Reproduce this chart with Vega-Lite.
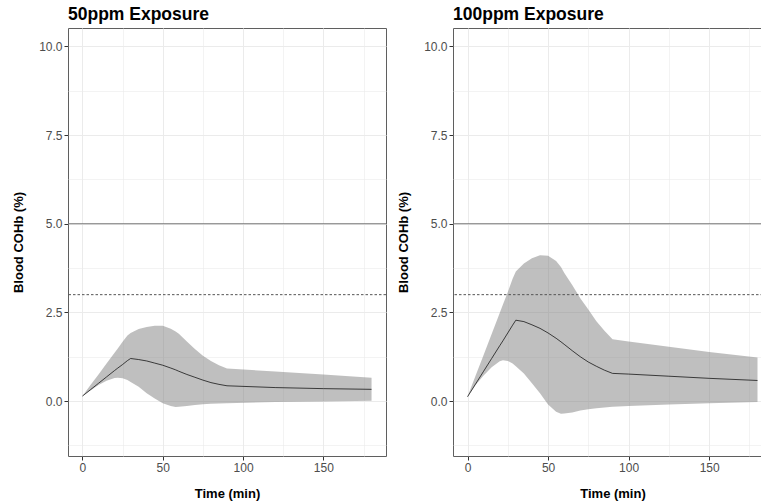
{
  "$schema": "https://vega.github.io/schema/vega-lite/v6.json",
  "padding": {"left": 12, "top": 5, "right": 0, "bottom": 0},
  "config": {
    "font": "Liberation Sans",
    "view": {"stroke": "#5f5f5f", "strokeWidth": 1},
    "title": {"fontSize": 17.5, "fontWeight": "bold", "anchor": "start", "frame": "group", "color": "#000000", "offset": 5},
    "axis": {"domain": false, "gridColor": "#ebebeb", "tickColor": "#333333", "tickSize": 4, "labelFontSize": 12, "labelColor": "#4d4d4d", "labelPadding": 2, "titleFontSize": 13, "titleFontWeight": "bold", "titleColor": "#000000"},
    "concat": {"spacing": 10}
  },
  "datasets": {
    "d50": [
      {"t": 0, "mean": 0.14, "lo": 0.14, "hi": 0.14},
      {"t": 5, "mean": 0.32, "lo": 0.30, "hi": 0.45},
      {"t": 10, "mean": 0.50, "lo": 0.45, "hi": 0.75},
      {"t": 15, "mean": 0.68, "lo": 0.57, "hi": 1.06},
      {"t": 20, "mean": 0.86, "lo": 0.65, "hi": 1.36},
      {"t": 22, "mean": 0.93, "lo": 0.66, "hi": 1.48},
      {"t": 25, "mean": 1.03, "lo": 0.64, "hi": 1.67},
      {"t": 28, "mean": 1.14, "lo": 0.59, "hi": 1.85},
      {"t": 30, "mean": 1.20, "lo": 0.54, "hi": 1.92},
      {"t": 35, "mean": 1.17, "lo": 0.40, "hi": 2.03},
      {"t": 40, "mean": 1.13, "lo": 0.22, "hi": 2.09},
      {"t": 45, "mean": 1.07, "lo": 0.07, "hi": 2.12},
      {"t": 50, "mean": 1.01, "lo": -0.06, "hi": 2.12},
      {"t": 55, "mean": 0.93, "lo": -0.14, "hi": 2.04},
      {"t": 58, "mean": 0.88, "lo": -0.17, "hi": 1.96},
      {"t": 60, "mean": 0.84, "lo": -0.16, "hi": 1.90},
      {"t": 65, "mean": 0.75, "lo": -0.14, "hi": 1.68},
      {"t": 70, "mean": 0.67, "lo": -0.11, "hi": 1.47},
      {"t": 75, "mean": 0.59, "lo": -0.09, "hi": 1.28},
      {"t": 80, "mean": 0.52, "lo": -0.08, "hi": 1.13},
      {"t": 85, "mean": 0.47, "lo": -0.07, "hi": 1.01},
      {"t": 90, "mean": 0.43, "lo": -0.06, "hi": 0.92},
      {"t": 120, "mean": 0.38, "lo": -0.03, "hi": 0.83},
      {"t": 150, "mean": 0.35, "lo": -0.01, "hi": 0.75},
      {"t": 180, "mean": 0.33, "lo": 0.01, "hi": 0.66}
    ],
    "d100": [
      {"t": 0, "mean": 0.12, "lo": 0.12, "hi": 0.12},
      {"t": 5, "mean": 0.48, "lo": 0.45, "hi": 0.71},
      {"t": 10, "mean": 0.84, "lo": 0.72, "hi": 1.30},
      {"t": 15, "mean": 1.20, "lo": 0.95, "hi": 1.89},
      {"t": 20, "mean": 1.56, "lo": 1.12, "hi": 2.48},
      {"t": 22, "mean": 1.70, "lo": 1.15, "hi": 2.72},
      {"t": 25, "mean": 1.92, "lo": 1.13, "hi": 3.07},
      {"t": 28, "mean": 2.14, "lo": 1.06, "hi": 3.45},
      {"t": 30, "mean": 2.28, "lo": 0.98, "hi": 3.65},
      {"t": 35, "mean": 2.24, "lo": 0.78, "hi": 3.88},
      {"t": 40, "mean": 2.15, "lo": 0.50, "hi": 4.03},
      {"t": 45, "mean": 2.05, "lo": 0.22, "hi": 4.11},
      {"t": 50, "mean": 1.92, "lo": -0.10, "hi": 4.10},
      {"t": 55, "mean": 1.77, "lo": -0.30, "hi": 3.95},
      {"t": 58, "mean": 1.67, "lo": -0.36, "hi": 3.78},
      {"t": 60, "mean": 1.60, "lo": -0.35, "hi": 3.62},
      {"t": 65, "mean": 1.42, "lo": -0.32, "hi": 3.27},
      {"t": 70, "mean": 1.25, "lo": -0.27, "hi": 2.90},
      {"t": 75, "mean": 1.10, "lo": -0.23, "hi": 2.58},
      {"t": 80, "mean": 0.98, "lo": -0.20, "hi": 2.25},
      {"t": 85, "mean": 0.87, "lo": -0.18, "hi": 1.98},
      {"t": 90, "mean": 0.78, "lo": -0.16, "hi": 1.74},
      {"t": 100, "mean": 0.76, "lo": -0.14, "hi": 1.68},
      {"t": 125, "mean": 0.70, "lo": -0.10, "hi": 1.53},
      {"t": 150, "mean": 0.64, "lo": -0.06, "hi": 1.38},
      {"t": 180, "mean": 0.58, "lo": -0.03, "hi": 1.23}
    ],
    "refs": [
      {"y": 5, "kind": "limit"},
      {"y": 3, "kind": "threshold"}
    ]
  },
  "hconcat": [
    {
      "title": "50ppm Exposure",
      "width": 318,
      "height": 428,
      "layer": [
        {
          "data": {"name": "d50"},
          "mark": {"type": "area", "color": "#7f7f7f", "opacity": 0.5},
          "encoding": {
            "x": {"field": "t", "type": "quantitative", "title": "Time (min)",
              "scale": {"domain": [-9, 189], "nice": false, "zero": false},
              "axis": {"values": [0, 25, 50, 75, 100, 125, 150, 175], "titlePadding": 14,
                "labelExpr": "datum.value % 50 === 0 ? datum.label : ''",
                "tickOpacity": {"condition": {"test": "datum.value % 50 !== 0", "value": 0}, "value": 1},
                "gridWidth": {"condition": {"test": "datum.value % 50 !== 0", "value": 0.6}, "value": 1}}},
            "y": {"field": "lo", "type": "quantitative", "title": "Blood COHb (%)",
              "scale": {"domain": [-1.55, 10.52], "nice": false, "zero": false},
              "axis": {"values": [-1.25, 0, 1.25, 2.5, 3.75, 5, 6.25, 7.5, 8.75, 10], "format": ".1f", "titlePadding": 13,
                "labelExpr": "datum.value % 2.5 === 0 ? datum.label : ''",
                "tickOpacity": {"condition": {"test": "datum.value % 2.5 !== 0", "value": 0}, "value": 1},
                "gridWidth": {"condition": {"test": "datum.value % 2.5 !== 0", "value": 0.6}, "value": 1}}},
            "y2": {"field": "hi"}
          }
        },
        {
          "data": {"name": "refs"},
          "mark": {"type": "rule", "strokeWidth": 1},
          "encoding": {
            "y": {"field": "y", "type": "quantitative"},
            "color": {"field": "kind", "type": "nominal", "scale": {"domain": ["limit", "threshold"], "range": ["#7a7a7a", "#555555"]}, "legend": null},
            "strokeDash": {"field": "kind", "type": "nominal", "scale": {"domain": ["limit", "threshold"], "range": [[1, 0], [2.5, 2]]}, "legend": null}
          }
        },
        {
          "data": {"name": "d50"},
          "mark": {"type": "line", "color": "#000000", "strokeWidth": 0.7},
          "encoding": {
            "x": {"field": "t", "type": "quantitative"},
            "y": {"field": "mean", "type": "quantitative"}
          }
        }
      ]
    },
    {
      "title": "100ppm Exposure",
      "width": 319,
      "height": 428,
      "layer": [
        {
          "data": {"name": "d100"},
          "mark": {"type": "area", "color": "#7f7f7f", "opacity": 0.5},
          "encoding": {
            "x": {"field": "t", "type": "quantitative", "title": "Time (min)",
              "scale": {"domain": [-9, 189], "nice": false, "zero": false},
              "axis": {"values": [0, 25, 50, 75, 100, 125, 150, 175], "titlePadding": 14,
                "labelExpr": "datum.value % 50 === 0 ? datum.label : ''",
                "tickOpacity": {"condition": {"test": "datum.value % 50 !== 0", "value": 0}, "value": 1},
                "gridWidth": {"condition": {"test": "datum.value % 50 !== 0", "value": 0.6}, "value": 1}}},
            "y": {"field": "lo", "type": "quantitative", "title": "Blood COHb (%)",
              "scale": {"domain": [-1.55, 10.52], "nice": false, "zero": false},
              "axis": {"values": [-1.25, 0, 1.25, 2.5, 3.75, 5, 6.25, 7.5, 8.75, 10], "format": ".1f", "titlePadding": 13,
                "labelExpr": "datum.value % 2.5 === 0 ? datum.label : ''",
                "tickOpacity": {"condition": {"test": "datum.value % 2.5 !== 0", "value": 0}, "value": 1},
                "gridWidth": {"condition": {"test": "datum.value % 2.5 !== 0", "value": 0.6}, "value": 1}}},
            "y2": {"field": "hi"}
          }
        },
        {
          "data": {"name": "refs"},
          "mark": {"type": "rule", "strokeWidth": 1},
          "encoding": {
            "y": {"field": "y", "type": "quantitative"},
            "color": {"field": "kind", "type": "nominal", "scale": {"domain": ["limit", "threshold"], "range": ["#7a7a7a", "#555555"]}, "legend": null},
            "strokeDash": {"field": "kind", "type": "nominal", "scale": {"domain": ["limit", "threshold"], "range": [[1, 0], [2.5, 2]]}, "legend": null}
          }
        },
        {
          "data": {"name": "d100"},
          "mark": {"type": "line", "color": "#000000", "strokeWidth": 0.7},
          "encoding": {
            "x": {"field": "t", "type": "quantitative"},
            "y": {"field": "mean", "type": "quantitative"}
          }
        }
      ]
    }
  ]
}
